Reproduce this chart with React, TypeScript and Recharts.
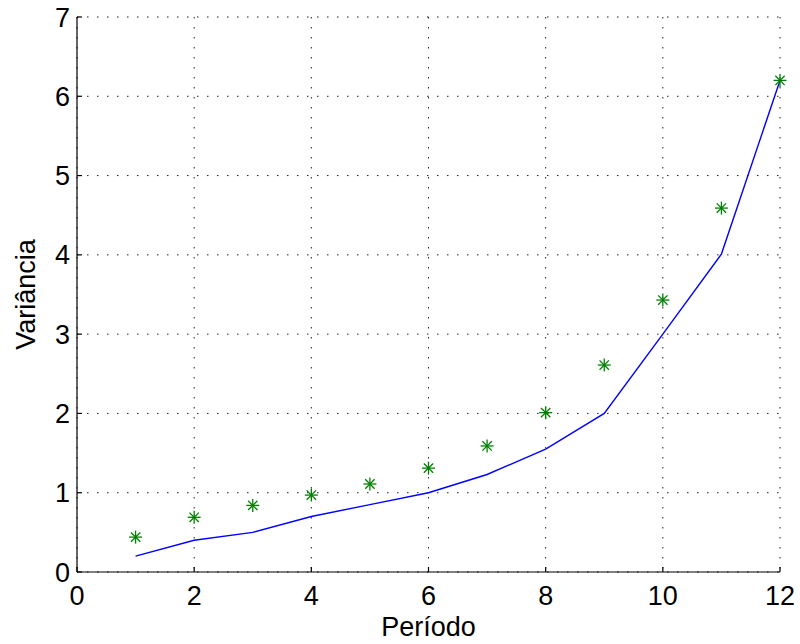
import { CartesianGrid, ComposedChart, Line, Scatter, XAxis, YAxis } from 'recharts';

const periods = [1, 2, 3, 4, 5, 6, 7, 8, 9, 10, 11, 12];
const lineValues = [0.2, 0.4, 0.5, 0.7, 0.85, 1.0, 1.23, 1.55, 2.0, 3.0, 4.01, 6.2];
const starValues = [0.44, 0.69, 0.84, 0.97, 1.11, 1.31, 1.59, 2.01, 2.61, 3.43, 4.59, 6.2];
const xTicks = [0, 2, 4, 6, 8, 10, 12];
const yTicks = [0, 1, 2, 3, 4, 5, 6, 7];

const data = periods.map((p, i) => ({ periodo: p, linha: lineValues[i], estrela: starValues[i] }));

const font = '"Liberation Sans", Arial, sans-serif';

function Asterisk(props: any) {
  const { cx, cy } = props;
  if (cx == null || cy == null) return null;
  const r = 6.5;
  const d = r * 0.72;
  return (
    <g stroke="#008000" strokeWidth={1.3}>
      <line x1={cx - r} y1={cy} x2={cx + r} y2={cy} />
      <line x1={cx} y1={cy - r} x2={cx} y2={cy + r} />
      <line x1={cx - d} y1={cy - d} x2={cx + d} y2={cy + d} />
      <line x1={cx - d} y1={cy + d} x2={cx + d} y2={cy - d} />
    </g>
  );
}

export default function App() {
  return (
    <div style={{ position: 'absolute', left: 0, top: 0, width: 800, height: 644, background: '#fff' }}>
      <ComposedChart
        width={800}
        height={644}
        data={data}
        margin={{ top: 17, right: 20, left: 0, bottom: 0 }}
      >
        <CartesianGrid stroke="#222" strokeDasharray="1.5 8.5" />
        <XAxis
          dataKey="periodo"
          type="number"
          domain={[0, 12]}
          ticks={xTicks}
          height={72}
          tickSize={-5}
          tickMargin={19}
          axisLine={{ stroke: '#000', strokeWidth: 1.2 }}
          tickLine={{ stroke: '#000', strokeWidth: 1.2 }}
          tick={{ fill: '#000', fontSize: 27, fontFamily: font }}
          label={{
            value: 'Período',
            position: 'insideBottom',
            offset: 8,
            fill: '#000',
            fontSize: 27,
            fontFamily: font,
          }}
        />
        <YAxis
          type="number"
          domain={[0, 7]}
          ticks={yTicks}
          width={77}
          tickSize={-5}
          tickMargin={12}
          axisLine={{ stroke: '#000', strokeWidth: 1.2 }}
          tickLine={{ stroke: '#000', strokeWidth: 1.2 }}
          tick={{ fill: '#000', fontSize: 27, fontFamily: font }}
          label={{
            value: 'Variância',
            angle: -90,
            position: 'insideLeft',
            offset: 25,
            style: { textAnchor: 'middle' },
            fill: '#000',
            fontSize: 27,
            fontFamily: font,
          }}
        />
        <Line
          dataKey="linha"
          stroke="#0000ff"
          strokeWidth={1.4}
          dot={false}
          activeDot={false}
          type="linear"
          isAnimationActive={false}
        />
        <Scatter dataKey="estrela" shape={<Asterisk />} isAnimationActive={false} />
      </ComposedChart>
    </div>
  );
}
